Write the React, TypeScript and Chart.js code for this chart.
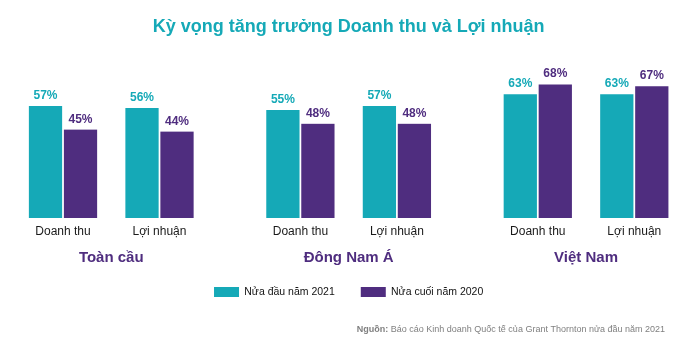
import { useEffect, useRef } from 'react';
import { Chart, registerables } from 'chart.js';

Chart.register(...registerables);

const groups = ['Toàn cầu', 'Đông Nam Á', 'Việt Nam'];
const metrics = ['Doanh thu', 'Lợi nhuận'];
const seriesNames = ['Nửa đầu năm 2021', 'Nửa cuối năm 2020'];
const firstHalf2021 = [57, 56, 55, 57, 63, 63];
const secondHalf2020 = [45, 44, 48, 48, 68, 67];
const titleText = 'Kỳ vọng tăng trưởng Doanh thu và Lợi nhuận';
const sourceLabel = 'Nguồn:';
const sourceText = ' Báo cáo Kinh doanh Quốc tế của Grant Thornton nửa đầu năm 2021';

const TEAL = '#15a9b7';
const PURPLE = '#4f2d7f';
const FONT = "'Liberation Sans', Arial, sans-serif";
const GROUP_STRIDE = 2.46;

const slotX = groups.flatMap((_, g) => metrics.map((__, m) => g * GROUP_STRIDE + m));
const slotLabels = groups.flatMap(() => metrics);
const groupX = groups.map((_, g) => g * GROUP_STRIDE + 0.5);
const X_MIN = -0.6;
const X_MAX = (groups.length - 1) * GROUP_STRIDE + 1 + 0.6;

const valueLabels = {
  id: 'valueLabels',
  afterDatasetsDraw(chart: any) {
    const ctx = chart.ctx;
    ctx.save();
    ctx.font = `bold 12px ${FONT}`;
    ctx.textAlign = 'center';
    ctx.textBaseline = 'alphabetic';
    chart.data.datasets.forEach((ds: any, i: number) => {
      const meta = chart.getDatasetMeta(i);
      meta.data.forEach((el: any, j: number) => {
        ctx.fillStyle = ds.labelColor;
        ctx.fillText(`${ds.data[j].y}%`, el.x, el.y - 7);
      });
    });
    ctx.restore();
  },
};

const groupLabels = {
  id: 'groupLabels',
  afterDraw(chart: any) {
    const ctx = chart.ctx;
    const xs = chart.scales.x;
    ctx.save();
    ctx.font = `bold 15px ${FONT}`;
    ctx.fillStyle = PURPLE;
    ctx.textAlign = 'center';
    ctx.textBaseline = 'middle';
    groups.forEach((g, i) => {
      ctx.fillText(g, xs.getPixelForValue(groupX[i]), xs.top + 39.5);
    });
    ctx.restore();
  },
};

const sourceNote = {
  id: 'sourceNote',
  afterDraw(chart: any) {
    const ctx = chart.ctx;
    ctx.save();
    ctx.fillStyle = '#808080';
    ctx.textBaseline = 'middle';
    ctx.textAlign = 'left';
    ctx.font = `bold 9px ${FONT}`;
    const wBold = ctx.measureText(sourceLabel).width;
    ctx.font = `9px ${FONT}`;
    const wRest = ctx.measureText(sourceText).width;
    const right = 665;
    const x0 = right - wRest - wBold;
    ctx.font = `bold 9px ${FONT}`;
    ctx.fillText(sourceLabel, x0, 330);
    ctx.font = `9px ${FONT}`;
    ctx.fillText(sourceText, x0 + wBold, 330);
    ctx.restore();
  },
};

export default function App() {
  const ref = useRef<HTMLCanvasElement | null>(null);

  useEffect(() => {
    document.body.style.margin = '0';
    if (!ref.current) return;
    Chart.defaults.font.family = FONT;
    const chart = new Chart(ref.current, {
      type: 'bar',
      data: {
        datasets: [
          {
            label: seriesNames[0],
            data: firstHalf2021.map((v, i) => ({ x: slotX[i], y: v })),
            backgroundColor: TEAL,
            borderColor: '#ffffff',
            borderWidth: { top: 0, left: 1.2, right: 1.2, bottom: 0 },
            barThickness: 35,
            labelColor: TEAL,
          } as any,
          {
            label: seriesNames[1],
            data: secondHalf2020.map((v, i) => ({ x: slotX[i], y: v })),
            backgroundColor: PURPLE,
            borderColor: '#ffffff',
            borderWidth: { top: 0, left: 1.2, right: 1.2, bottom: 0 },
            barThickness: 35,
            labelColor: PURPLE,
          } as any,
        ],
      },
      options: {
        responsive: false,
        animation: false,
        layout: { padding: { top: 0, left: 5.1, right: 7.8, bottom: 42.75 } },
        scales: {
          x: {
            type: 'linear',
            position: 'bottom',
            offset: false,
            min: X_MIN,
            max: X_MAX,
            grid: { display: false, offset: false, drawTicks: true, tickLength: 6.3 },
            border: { display: false },
            afterBuildTicks: (axis: any) => {
              axis.ticks = slotX.map((v) => ({ value: v }));
            },
            afterFit: (axis: any) => {
              axis.paddingLeft = 0;
              axis.paddingRight = 0;
              axis.height = 42.75;
            },
            ticks: {
              autoSkip: false,
              maxRotation: 0,
              minRotation: 0,
              padding: 0,
              color: '#1a1a1a',
              font: { size: 12 },
              callback: (_v: any, index: number) => slotLabels[index],
            },
          },
          y: { display: false, min: 0, max: 80 },
        } as any,
        plugins: {
          title: {
            display: true,
            text: titleText,
            color: TEAL,
            font: { size: 18, weight: 'bold' },
            padding: { top: 16, bottom: 23.2 },
          },
          legend: {
            position: 'bottom',
            labels: {
              boxWidth: 25,
              boxHeight: 10,
              padding: 26,
              color: '#111111',
              font: { size: 10.5 },
              generateLabels: (c: any) =>
                (Chart.defaults.plugins.legend.labels as any)
                  .generateLabels(c)
                  .map((l: any) => ({ ...l, lineWidth: 0 })),
            },
          } as any,
          tooltip: { enabled: false },
        },
      },
      plugins: [valueLabels, groupLabels, sourceNote],
    });
    return () => chart.destroy();
  }, []);

  return (
    <div style={{ width: 700, height: 350 }}>
      <canvas ref={ref} width={700} height={350} />
    </div>
  );
}
